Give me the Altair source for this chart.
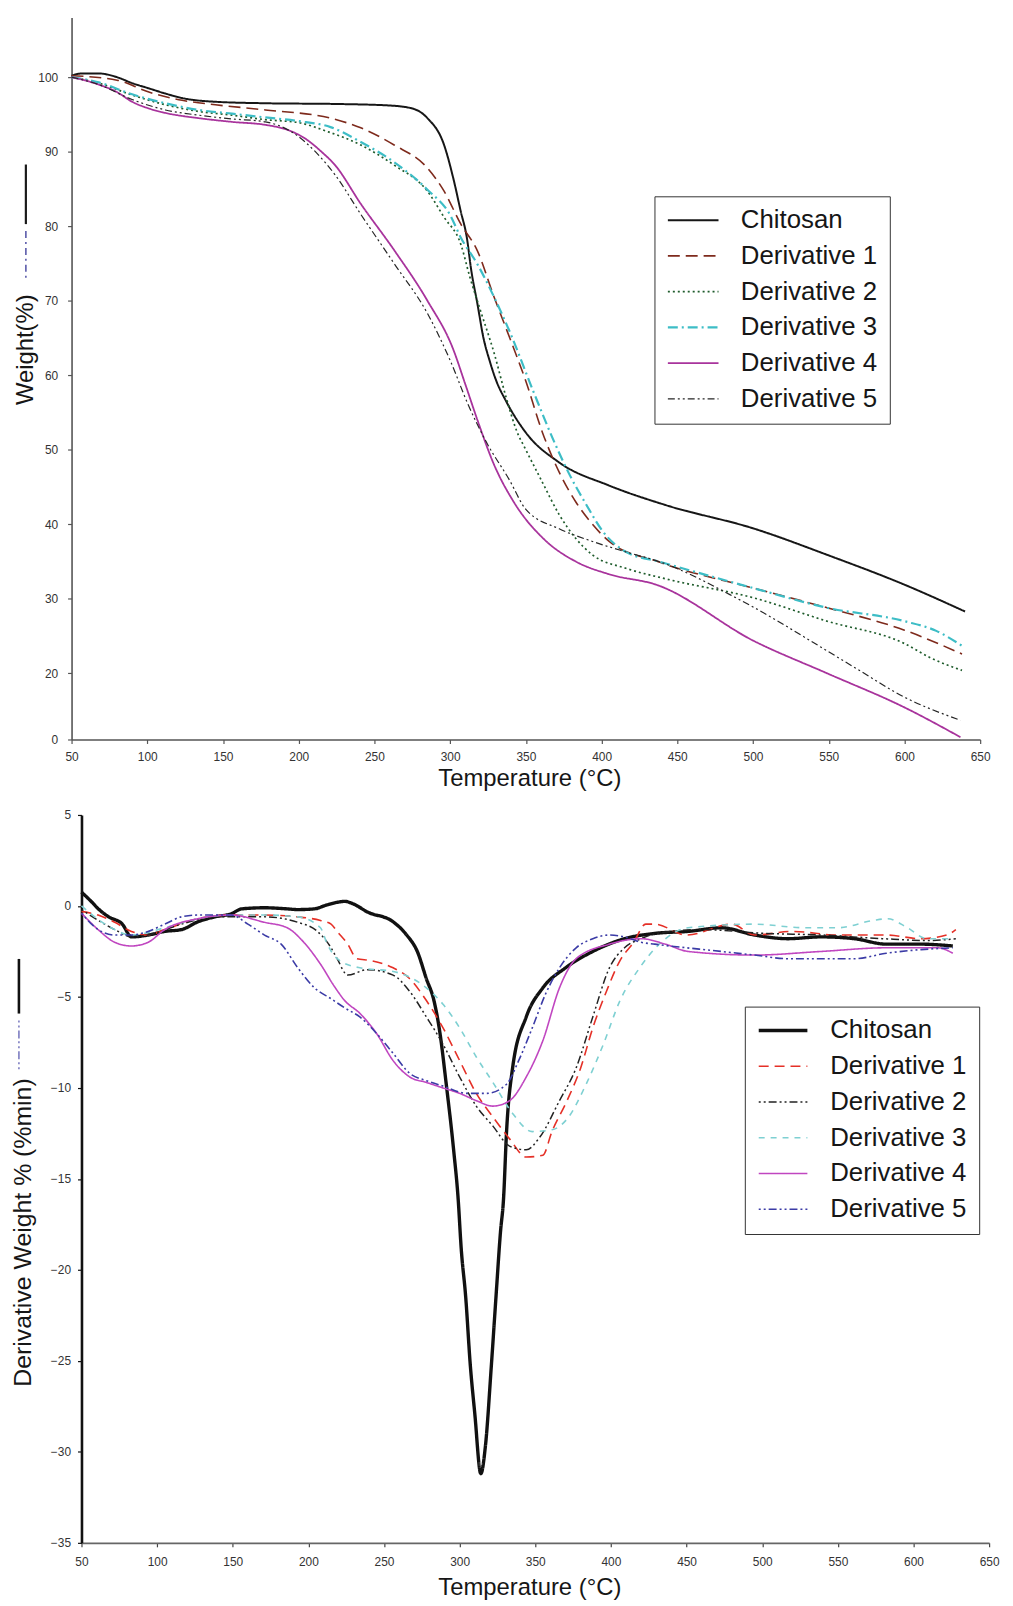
import altair as alt
import pandas as pd

FONT = "Liberation Sans"
SERIES = ["Chitosan", "Derivative 1", "Derivative 2", "Derivative 3", "Derivative 4", "Derivative 5"]

# ---------------- TGA (top) ----------------
tga_chitosan_t = [50, 57, 68, 80, 90, 101, 112, 123, 145, 178, 226, 260, 275, 285, 296, 302, 307, 311, 314, 318, 322, 326, 330, 337, 350, 372, 405, 442, 501, 549, 600, 640]
tga_chitosan_w = [100.2, 100.5, 100.5, 100.0, 99.2, 98.5, 97.8, 97.2, 96.7, 96.5, 96.4, 96.2, 95.8, 94.5, 90.9, 86.5, 82.0, 78.5, 74.0, 69.6, 65.0, 62.0, 59.5, 56.5, 52.3, 48.3, 45.2, 42.6, 39.4, 35.9, 31.9, 28.3]

tga_d1_t = [50, 80, 101, 123, 145, 178, 221, 241, 263, 285, 296, 307, 318, 329, 339, 350, 361, 372, 383, 394, 405, 437, 501, 549, 600, 638]
tga_d1_w = [100.2, 99.6, 98.0, 96.9, 96.3, 95.6, 94.5, 93.2, 90.9, 87.8, 84.7, 80.3, 76.7, 70.5, 65.2, 59.2, 52.3, 47.0, 43.0, 40.0, 37.7, 35.0, 31.4, 28.8, 25.8, 22.6]

tga_d2_t = [50, 68, 90, 112, 134, 156, 178, 200, 219, 241, 263, 285, 296, 307, 313, 320, 329, 337, 344, 350, 361, 372, 383, 394, 416, 442, 501, 549, 600, 617, 638]
tga_d2_w = [100.0, 99.2, 97.6, 96.3, 95.4, 94.9, 94.3, 93.9, 92.7, 90.9, 88.2, 84.7, 81.2, 77.6, 73.2, 68.7, 63.0, 57.0, 52.5, 50.0, 45.6, 41.3, 38.1, 35.9, 34.1, 32.7, 30.1, 27.0, 24.0, 22.1, 20.4]

tga_d3_t = [50, 68, 90, 112, 134, 156, 178, 200, 221, 241, 263, 285, 300, 307, 318, 329, 339, 355, 368, 379, 390, 401, 416, 438, 501, 549, 600, 621, 638]
tga_d3_w = [100.0, 99.3, 97.7, 96.5, 95.6, 95.1, 94.6, 94.1, 93.3, 91.3, 88.6, 84.9, 81.5, 78.5, 74.9, 70.5, 66.0, 57.8, 51.4, 46.6, 42.6, 39.0, 36.3, 35.0, 31.4, 28.8, 27.0, 25.7, 23.7]

tga_d4_t = [50, 68, 80, 90, 101, 112, 134, 156, 178, 193, 204, 215, 224, 241, 263, 285, 302, 310, 318, 329, 342, 362, 383, 405, 436, 501, 549, 600, 637]
tga_d4_w = [100.0, 99.0, 98.0, 96.7, 95.8, 95.2, 94.5, 94.0, 93.6, 92.9, 91.8, 90.0, 88.2, 83.0, 76.8, 70.0, 63.5, 58.8, 54.0, 48.0, 43.0, 38.0, 35.0, 33.3, 31.9, 24.3, 20.0, 9.7, 0.7]

tga_d5_t = [50, 68, 90, 112, 134, 156, 178, 195, 211, 224, 241, 263, 285, 300, 312, 324, 339, 350, 372, 394, 416, 438, 490, 501, 545, 567, 600, 637]
tga_d5_w = [100.0, 99.0, 97.0, 95.6, 94.9, 94.4, 94.0, 92.7, 90.0, 86.9, 81.6, 75.0, 68.3, 62.0, 56.0, 51.0, 46.0, 42.0, 39.4, 37.7, 36.3, 35.0, 30.0, 28.8, 23.5, 20.8, 12.8, 5.8]

# ---------------- DTG (bottom) ----------------
dtg_chitosan_t = [50, 57, 61, 68, 77, 83, 94, 105, 116, 127, 138, 149, 156, 171, 186, 193, 204, 212, 219, 224, 230, 239, 256, 265, 272, 278, 283, 287, 291, 296, 299, 301, 304, 307, 310, 314, 317, 321, 324, 327, 329, 331, 335, 344, 355, 370, 388, 409, 430, 451, 473, 495, 517, 539, 561, 582, 605, 626]
dtg_chitosan_v = [0.76, 0.2, -0.15, -0.6, -1.0, -1.7, -1.6, -1.4, -1.3, -0.87, -0.6, -0.43, -0.16, -0.1, -0.16, -0.2, -0.16, 0.05, 0.2, 0.25, 0.1, -0.33, -0.87, -1.6, -2.5, -4.0, -5.2, -7.0, -9.7, -13.4, -16.1, -18.8, -21.5, -25.2, -27.9, -31.2, -29.7, -25.2, -21.5, -17.9, -16.1, -12.4, -8.9, -6.1, -4.5, -3.4, -2.5, -1.8, -1.5, -1.4, -1.2, -1.6, -1.8, -1.7, -1.8, -2.1, -2.1, -2.2]

dtg_d1_t = [50, 61, 72, 83, 94, 105, 127, 149, 171, 193, 208, 215, 219, 226, 232, 241, 256, 267, 278, 289, 300, 311, 322, 333, 344, 355, 361, 371, 380, 388, 397, 406, 415, 423, 429, 450, 480, 495, 520, 550, 582, 605, 622, 628]
dtg_d1_v = [-0.3, -0.5, -0.9, -1.4, -1.6, -1.3, -0.7, -0.5, -0.5, -0.6, -0.8, -1.0, -1.4, -2.1, -2.9, -3.0, -3.4, -4.0, -5.2, -6.7, -8.5, -10.3, -11.6, -12.8, -13.8, -13.7, -12.4, -10.7, -8.9, -6.7, -4.7, -3.0, -2.0, -1.0, -1.0, -1.6, -1.0, -1.6, -1.4, -1.6, -1.6, -1.8, -1.6, -1.3]

dtg_d2_t = [50, 72, 83, 94, 116, 138, 171, 193, 206, 215, 219, 226, 239, 256, 267, 278, 289, 300, 311, 322, 333, 344, 353, 366, 377, 388, 399, 409, 420, 431, 460, 500, 540, 580, 610, 628]
dtg_d2_v = [-0.2, -1.3, -1.7, -1.6, -1.0, -0.6, -0.6, -0.9, -1.4, -2.3, -2.9, -3.8, -3.5, -3.8, -4.7, -6.1, -7.6, -9.4, -11.0, -12.1, -13.2, -13.4, -12.7, -10.7, -8.9, -6.1, -3.4, -2.3, -1.8, -1.5, -1.3, -1.5, -1.6, -1.8, -1.9, -1.8]

dtg_d3_t = [50, 72, 83, 105, 127, 149, 171, 193, 208, 212, 219, 234, 256, 278, 289, 300, 311, 322, 335, 348, 361, 372, 383, 395, 406, 419, 432, 451, 495, 528, 550, 573, 583, 596, 609, 626]
dtg_d3_v = [0.0, -1.3, -1.6, -1.2, -0.7, -0.5, -0.5, -0.6, -1.2, -2.0, -2.9, -3.4, -3.6, -4.5, -5.4, -6.7, -8.3, -9.7, -11.4, -12.4, -12.3, -11.6, -9.9, -7.6, -5.2, -3.4, -2.1, -1.2, -1.0, -1.2, -1.2, -0.8, -0.7, -1.2, -1.8, -1.8]

dtg_d4_t = [50, 61, 72, 83, 94, 105, 127, 149, 171, 186, 197, 208, 217, 224, 234, 245, 256, 267, 278, 289, 300, 311, 322, 333, 344, 355, 366, 377, 399, 420, 436, 451, 495, 539, 582, 616, 626]
dtg_d4_v = [-0.4, -1.3, -2.0, -2.2, -2.0, -1.3, -0.7, -0.5, -0.9, -1.2, -2.0, -3.2, -4.4, -5.2, -5.9, -7.0, -8.5, -9.4, -9.7, -10.0, -10.3, -10.7, -11.0, -10.7, -9.4, -7.4, -4.5, -2.9, -2.1, -1.8, -2.1, -2.5, -2.7, -2.5, -2.3, -2.3, -2.6]

dtg_d5_t = [50, 61, 72, 83, 94, 105, 116, 127, 149, 160, 171, 182, 193, 204, 215, 224, 234, 245, 256, 267, 278, 289, 305, 318, 331, 339, 348, 357, 366, 377, 388, 399, 409, 420, 429, 473, 495, 517, 539, 561, 582, 605, 626]
dtg_d5_v = [-0.4, -1.3, -1.6, -1.6, -1.4, -1.0, -0.6, -0.5, -0.5, -1.0, -1.6, -2.1, -3.4, -4.5, -5.1, -5.6, -6.1, -7.0, -8.1, -9.2, -9.6, -9.9, -10.3, -10.3, -9.8, -8.5, -6.7, -4.8, -3.4, -2.3, -1.8, -1.6, -1.7, -2.0, -2.1, -2.5, -2.7, -2.9, -2.9, -2.9, -2.6, -2.4, -2.3]

x_ticks = [50, 100, 150, 200, 250, 300, 350, 400, 450, 500, 550, 600, 650]
tga_y_ticks = [0, 20, 30, 40, 50, 60, 70, 80, 90, 100]
dtg_y_ticks = [5, 0, -5, -10, -15, -20, -25, -30, -35]

tga_colors = ["#161616", "#7e2a1c", "#1f5c2c", "#3dbdc6", "#a8339c", "#262626"]
tga_dashes = [[1, 0], [12, 6], [2, 3], [10, 4, 2, 4], [1, 0], [7, 3, 2, 3, 2, 3]]
tga_widths = [2.0, 1.6, 1.7, 2.2, 1.8, 1.2]

dtg_colors = ["#111111", "#e53027", "#222222", "#7ed0d2", "#c046c0", "#3b3ba6"]
dtg_dashes = [[1, 0], [10, 6], [2, 3, 2, 3, 8, 3], [6, 6], [1, 0], [2, 3, 2, 3, 8, 3]]
dtg_widths = [3.4, 1.6, 1.5, 1.6, 1.6, 1.6]


def to_long(pairs, valname):
    rows = []
    for name, (ts, vs) in zip(SERIES, pairs):
        for t, v in zip(ts, vs):
            rows.append({"series": name, "T": t, valname: v})
    return pd.DataFrame(rows)


tga_df = to_long([
    (tga_chitosan_t, tga_chitosan_w), (tga_d1_t, tga_d1_w), (tga_d2_t, tga_d2_w),
    (tga_d3_t, tga_d3_w), (tga_d4_t, tga_d4_w), (tga_d5_t, tga_d5_w)], "W")
dtg_df = to_long([
    (dtg_chitosan_t, dtg_chitosan_v), (dtg_d1_t, dtg_d1_v), (dtg_d2_t, dtg_d2_v),
    (dtg_d3_t, dtg_d3_v), (dtg_d4_t, dtg_d4_v), (dtg_d5_t, dtg_d5_v)], "V")

TOP_W, TOP_H = 915, 727
BOT_W, BOT_H = 924, 733


def make_legend(x, y, sym, pad):
    return alt.Legend(orient="none", legendX=x, legendY=y, title=None,
                      symbolType="stroke", symbolSize=sym * sym,
                      labelFontSize=26, labelFont=FONT, labelColor="#161616",
                      strokeColor="#333333", fillColor="white", padding=pad,
                      rowPadding=10, clipHeight=24, labelOffset=21, labelLimit=400)


common_axis = dict(labelFont=FONT, labelFontSize=12, labelColor="#333333",
                   titleFont=FONT, titleFontWeight="normal", titleColor="#161616",
                   grid=False, tickSize=4, tickWidth=1.2)

# glyph samples drawn next to the y-axis titles in the original figure
glyph_df = pd.DataFrame({"k": [0]})

# ---------- top chart ----------
lt = make_legend(587, 180, 51, 12)
top_lines = alt.Chart(tga_df).mark_line(interpolate="monotone").encode(
    x=alt.X("T:Q", scale=alt.Scale(domain=[50, 650], nice=False, zero=False),
            axis=alt.Axis(values=x_ticks, title="Temperature (°C)", titleFontSize=24,
                          titleX=461, titleY=39, titleAlign="center", titleBaseline="middle",
                          labelPadding=8, labelFlush=False, labelOverlap=False, labelAngle=0,
                          domainColor="#555555", tickColor="#555555", domainWidth=1.6,
                          **common_axis)),
    y=alt.Y("W:Q", scale=alt.Scale(domain=[0, 20, 108], range=[TOP_H, TOP_H - 66.6, 0], nice=False, zero=False),
            axis=alt.Axis(values=tga_y_ticks, title="Weight(%)", titleFontSize=24,
                          titleX=-46, titleY=334, titleAngle=270, titleAlign="center", titleBaseline="middle",
                          labelPadding=10, labelOverlap=False,
                          domainColor="#555555", tickColor="#555555", domainWidth=1.6,
                          **common_axis)),
    color=alt.Color("series:N", scale=alt.Scale(domain=SERIES, range=tga_colors), legend=lt),
    strokeDash=alt.StrokeDash("series:N", scale=alt.Scale(domain=SERIES, range=tga_dashes), legend=lt),
    strokeWidth=alt.StrokeWidth("series:N", scale=alt.Scale(type="ordinal", domain=SERIES, range=tga_widths), legend=lt),
)
top_g1 = alt.Chart(glyph_df).mark_rule(color="#1a1a1a", strokeWidth=2.2).encode(
    x=alt.value(-46), y=alt.value(148), y2=alt.value(208))
top_g2 = alt.Chart(glyph_df).mark_rule(color="#5a5aaa", strokeWidth=1.6, strokeDash=[7, 4, 2, 4]).encode(
    x=alt.value(-46), y=alt.value(215), y2=alt.value(265))
top = alt.layer(top_lines, top_g1, top_g2).properties(width=TOP_W, height=TOP_H)

# ---------- bottom chart ----------
lb = make_legend(678, 193, 49, 12)
bot_lines = alt.Chart(dtg_df).mark_line(interpolate="monotone").encode(
    x=alt.X("T:Q", scale=alt.Scale(domain=[50, 650], range=[10, BOT_W], nice=False, zero=False),
            axis=alt.Axis(values=x_ticks, title="Temperature (°C)", titleFontSize=24,
                          titleX=461, titleY=45, titleAlign="center", titleBaseline="middle",
                          labelPadding=10, labelFlush=False, labelOverlap=False, labelAngle=0,
                          domainColor="#666666", tickColor="#444444", domainWidth=1.6,
                          **common_axis)),
    y=alt.Y("V:Q", scale=alt.Scale(domain=[-35, 5], nice=False, zero=False),
            axis=alt.Axis(values=dtg_y_ticks, title="Derivative Weight % (%min)", titleFontSize=25,
                          titleX=-59, titleY=420, titleAngle=270, titleAlign="center", titleBaseline="middle",
                          labelPadding=7, labelOverlap=False, offset=-10,
                          domainColor="#111111", tickColor="#111111", domainWidth=2.6,
                          **common_axis)),
    color=alt.Color("series:N", scale=alt.Scale(domain=SERIES, range=dtg_colors), legend=lb),
    strokeDash=alt.StrokeDash("series:N", scale=alt.Scale(domain=SERIES, range=dtg_dashes), legend=lb),
    strokeWidth=alt.StrokeWidth("series:N", scale=alt.Scale(type="ordinal", domain=SERIES, range=dtg_widths), legend=lb),
)
bot_g1 = alt.Chart(glyph_df).mark_rule(color="#111111", strokeWidth=2.6).encode(
    x=alt.value(-53), y=alt.value(145), y2=alt.value(200))
bot_g2 = alt.Chart(glyph_df).mark_rule(color="#6a6ab8", strokeWidth=1.4, strokeDash=[2, 3, 2, 3, 8, 3]).encode(
    x=alt.value(-53), y=alt.value(207), y2=alt.value(257))
bottom = alt.layer(bot_lines, bot_g1, bot_g2).properties(width=BOT_W, height=BOT_H)

chart = alt.vconcat(top, bottom, spacing=76, bounds="flush").resolve_scale(
    color="independent", strokeDash="independent", strokeWidth="independent", x="independent", y="independent"
).resolve_legend(color="independent", strokeDash="independent", strokeWidth="independent").properties(
    padding={"left": 3, "top": 4, "right": 5, "bottom": 5}
).configure_view(strokeWidth=0)

chart.save("out.html", embed_options={"renderer": "svg", "actions": False})
